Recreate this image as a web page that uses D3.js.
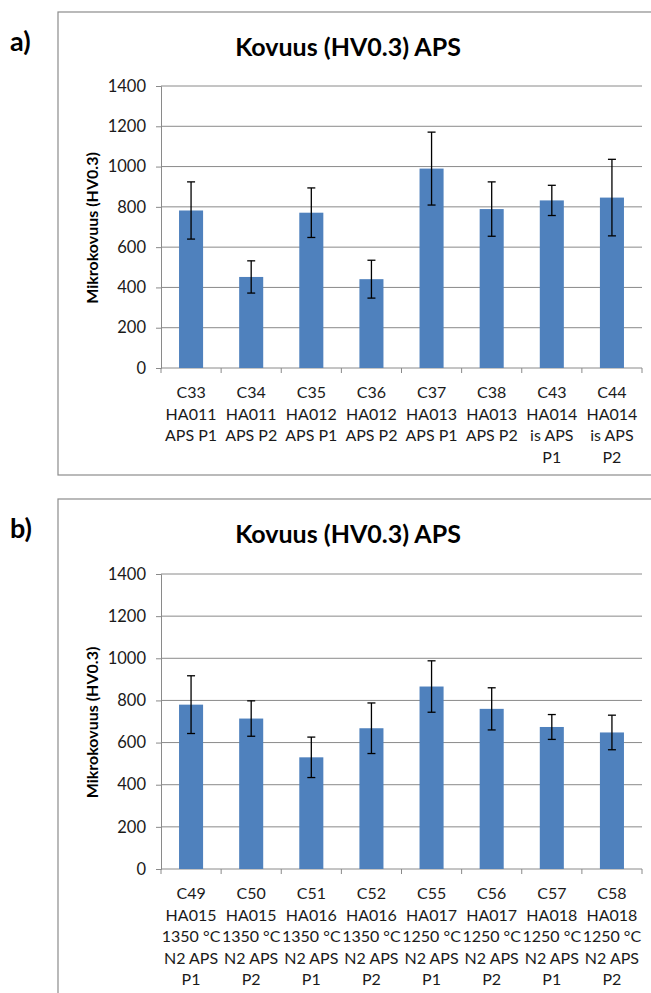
<!DOCTYPE html>
<html>
<head>
<meta charset="utf-8">
<script src="https://cdn.jsdelivr.net/npm/d3@7"></script>
<style>
  body { margin: 0; background: #fff; }
  svg text { font-family: Lato, "Open Sans", sans-serif; fill: #1a1a1a; }
</style>
</head>
<body>
<div id="chart"></div>
<script>
// ---- data ----
var catsA = [
  ["C33", "HA011", "APS P1"], ["C34", "HA011", "APS P2"],
  ["C35", "HA012", "APS P1"], ["C36", "HA012", "APS P2"],
  ["C37", "HA013", "APS P1"], ["C38", "HA013", "APS P2"],
  ["C43", "HA014", "is APS", "P1"], ["C44", "HA014", "is APS", "P2"]
];
var valuesA = [782, 452, 771, 441, 990, 789, 832, 846];
var errorsA = [142, 80, 123, 94, 181, 135, 75, 190];

var catsB = [
  ["C49", "HA015", "1350 °C", "N2 APS", "P1"], ["C50", "HA015", "1350 °C", "N2 APS", "P2"],
  ["C51", "HA016", "1350 °C", "N2 APS", "P1"], ["C52", "HA016", "1350 °C", "N2 APS", "P2"],
  ["C55", "HA017", "1250 °C", "N2 APS", "P1"], ["C56", "HA017", "1250 °C", "N2 APS", "P2"],
  ["C57", "HA018", "1250 °C", "N2 APS", "P1"], ["C58", "HA018", "1250 °C", "N2 APS", "P2"]
];
var valuesB = [780, 714, 530, 668, 866, 760, 674, 648];
var errorsB = [137, 84, 96, 120, 122, 100, 59, 82];

var yTicks = [0, 200, 400, 600, 800, 1000, 1200, 1400];
var chartTitle = "Kovuus (HV0.3) APS";
var yTitle = "Mikrokovuus (HV0.3)";

var svg = d3.select("#chart")
    .append("svg")
    .attr("width", 651)
    .attr("height", 993);

// draws one panel; box = frame, plot = inner plot area
function drawPanel(letter, cats, values, errors, box, plot) {

    // frame
    svg.append("rect")
        .attr("x", box.x).attr("y", box.y)
        .attr("width", box.w).attr("height", box.h)
        .attr("fill", "none")
        .attr("stroke", "#8c8c8c")
        .attr("stroke-width", 1.2);

    // panel letter
    svg.append("text")
        .attr("x", 10).attr("y", box.y + 39)
        .style("font-size", "27px")
        .style("font-weight", "bold")
        .style("fill", "#000")
        .text(letter);

    // title
    svg.append("text")
        .attr("x", 348).attr("y", box.y + 44)
        .attr("text-anchor", "middle")
        .style("font-size", "25px")
        .style("font-weight", "bold")
        .style("fill", "#000")
        .text(chartTitle);

    var x = d3.scaleBand()
        .domain(cats.map(function (d) { return d[0]; }))
        .range([plot.left, plot.right])
        .padding(0);

    var y = d3.scaleLinear()
        .domain([0, 1400])
        .range([plot.bottom, plot.top]);

    // gridlines
    svg.append("g")
        .selectAll("line")
        .data(yTicks.slice(1))
        .enter()
        .append("line")
        .attr("x1", plot.left).attr("x2", plot.right)
        .attr("y1", function (d) { return y(d); })
        .attr("y2", function (d) { return y(d); })
        .attr("stroke", "#8a8a8a")
        .attr("stroke-width", 1);

    // Y axis
    var yAxis = svg.append("g")
        .attr("transform", "translate(" + plot.left + ",0)")
        .call(d3.axisLeft(y).tickValues(yTicks).tickFormat(d3.format("d"))
            .tickSize(5).tickPadding(10));
    yAxis.select(".domain").attr("stroke", "#8a8a8a");
    yAxis.selectAll(".tick line").attr("stroke", "#8a8a8a");
    yAxis.selectAll(".tick text")
        .style("font-size", "16.5px")
        .style("font-family", "Lato, sans-serif")
        .attr("fill", "#1a1a1a");

    // X axis line + boundary ticks
    svg.append("line")
        .attr("x1", plot.left).attr("x2", plot.right)
        .attr("y1", plot.bottom).attr("y2", plot.bottom)
        .attr("stroke", "#8a8a8a");
    var bounds = cats.map(function (d) { return x(d[0]); }).concat([plot.right]);
    svg.append("g")
        .selectAll("line")
        .data(bounds)
        .enter()
        .append("line")
        .attr("x1", function (d) { return d; })
        .attr("x2", function (d) { return d; })
        .attr("y1", plot.bottom).attr("y2", plot.bottom + 5)
        .attr("stroke", "#8a8a8a");

    // bars
    var barW = x.bandwidth() * 0.4;
    svg.append("g")
        .selectAll("rect")
        .data(values)
        .enter()
        .append("rect")
        .attr("x", function (d, i) { return x(cats[i][0]) + (x.bandwidth() - barW) / 2; })
        .attr("y", function (d) { return y(d); })
        .attr("width", barW)
        .attr("height", function (d) { return y(0) - y(d); })
        .attr("fill", "#4f81bd");

    // error bars
    var eb = svg.append("g")
        .selectAll("g")
        .data(values)
        .enter()
        .append("g")
        .attr("stroke", "#000")
        .attr("stroke-width", 1.3);
    eb.append("line")
        .attr("x1", function (d, i) { return x(cats[i][0]) + x.bandwidth() / 2; })
        .attr("x2", function (d, i) { return x(cats[i][0]) + x.bandwidth() / 2; })
        .attr("y1", function (d, i) { return y(d + errors[i]); })
        .attr("y2", function (d, i) { return y(d - errors[i]); });
    [1, -1].forEach(function (s) {
        eb.append("line")
            .attr("x1", function (d, i) { return x(cats[i][0]) + x.bandwidth() / 2 - 4; })
            .attr("x2", function (d, i) { return x(cats[i][0]) + x.bandwidth() / 2 + 4; })
            .attr("y1", function (d, i) { return y(d + s * errors[i]); })
            .attr("y2", function (d, i) { return y(d + s * errors[i]); });
    });

    // category labels (multi line)
    var labels = svg.append("g")
        .selectAll("text")
        .data(cats)
        .enter()
        .append("text")
        .attr("text-anchor", "middle")
        .attr("x", function (d) { return x(d[0]) + x.bandwidth() / 2; })
        .attr("y", plot.bottom + 30)
        .style("font-size", "16px");
    labels.selectAll("tspan")
        .data(function (d) { return d; })
        .enter()
        .append("tspan")
        .attr("x", function () { return d3.select(this.parentNode).attr("x"); })
        .attr("dy", function (d, i) { return i === 0 ? 0 : 21.5; })
        .text(function (d) { return d; });

    // y axis title
    var cy = (plot.top + plot.bottom) / 2 + 1;
    svg.append("text")
        .attr("transform", "translate(98," + cy + ") rotate(-90)")
        .attr("text-anchor", "middle")
        .style("font-size", "16px")
        .style("font-weight", "bold")
        .style("fill", "#000")
        .text(yTitle);
}

drawPanel("a)", catsA, valuesA, errorsA,
    { x: 58, y: 12, w: 610, h: 463 },
    { left: 161, right: 642, top: 86, bottom: 368 });

drawPanel("b)", catsB, valuesB, errorsB,
    { x: 58, y: 499, w: 610, h: 520 },
    { left: 161, right: 642, top: 574, bottom: 869 });
</script>
</body>
</html>
